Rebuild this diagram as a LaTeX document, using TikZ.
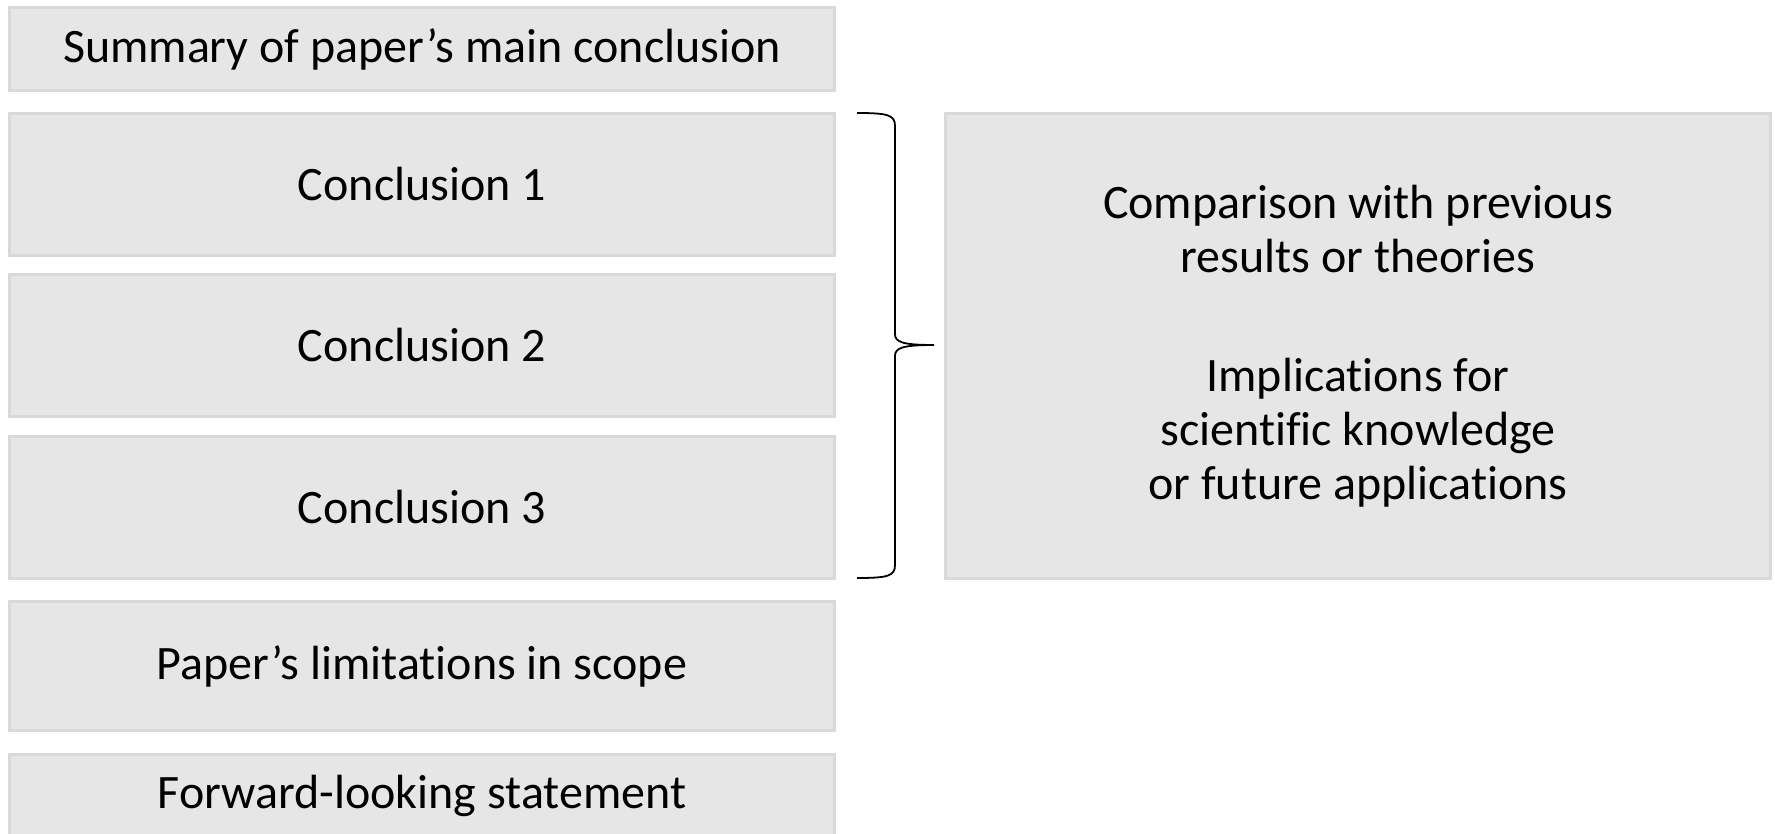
\documentclass[tikz,border=0pt]{standalone}
\usepackage{fontspec}
\setmainfont[Ligatures=NoCommon]{Carlito}
\definecolor{boxfill}{RGB}{230,230,230}
\definecolor{boxline}{RGB}{217,217,217}
\begin{document}
\begin{tikzpicture}[x=1pt,y=-1pt,
  box/.style={draw=boxline,fill=boxfill,line width=3pt,inner sep=0pt,outer sep=0pt,
    minimum width=825pt,align=center,font=\fontsize{48}{54}\selectfont},
  bracestyle/.style={draw=black,line width=1.8pt}]
\useasboundingbox (0,0) rectangle (1775,834);
\clip (0,0) rectangle (1775,834);
\node[box,minimum height=83pt] (b1) at (422,49) {Summary of paper’s main conclusion};
\node[box,minimum height=142pt] (b2) at (422,184.5) {Conclusion 1};
\node[box,minimum height=142pt] (b3) at (422,345.5) {Conclusion 2};
\node[box,minimum height=142pt] (b4) at (422,507.5) {Conclusion 3};
\node[box,minimum height=129pt] (b5) at (422,666) {Paper’s limitations in scope};
\node[box,minimum height=83pt] (b6) at (422,796) {Forward-looking statement};
\node[box,minimum height=465pt] (rb) at (1358,346) {Comparison with previous\\results or theories\\[65pt]Implications for\\scientific knowledge\\or future applications};
\coordinate (bt) at (857,113);
\coordinate (tip) at (934,345);
\coordinate (bb) at (857,578);
\draw[bracestyle] (bt) .. controls (888,113) and (895,115) .. (895,126)
  -- (895,334) .. controls (895,342) and (902,345) .. (tip)
  .. controls (902,345) and (895,348) .. (895,356)
  -- (895,565) .. controls (895,576) and (888,578) .. (bb);
\end{tikzpicture}
\end{document}
